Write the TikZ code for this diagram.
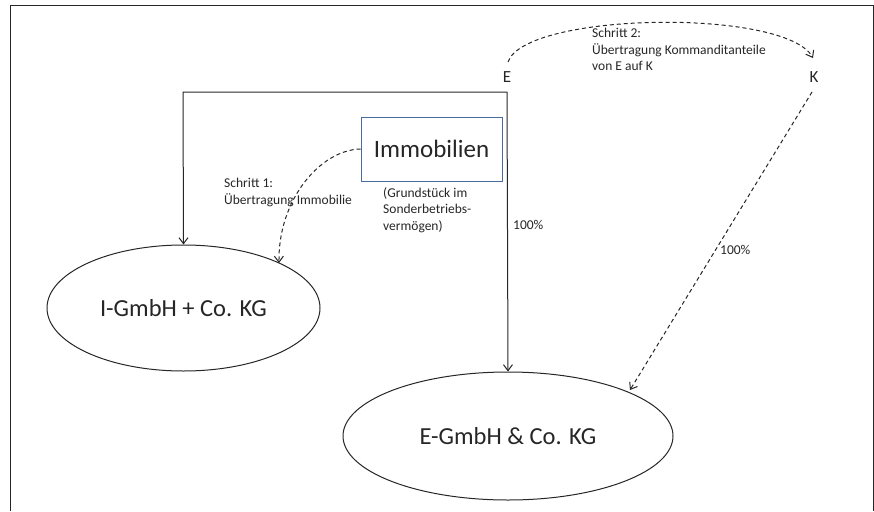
\documentclass[tikz,border=0pt]{standalone}
\usepackage{fontspec}
\setmainfont{Carlito}
\usetikzlibrary{arrows.meta,shapes.geometric}
\definecolor{txt}{HTML}{262626}
\definecolor{ln}{HTML}{262626}
\definecolor{boxblue}{HTML}{4A6A9C}
\tikzset{
  ent/.style={ellipse,draw=ln,line width=1pt,inner sep=0pt,text=txt},
  con/.style={draw=ln,line width=1pt,-{Straight Barb[length=6pt,width=9pt]}},
  dcon/.style={con,dash pattern=on 4pt off 3pt},
  small/.style={text=txt,font=\fontsize{13.5}{16.5}\selectfont,align=left,inner sep=0pt},
  letter/.style={text=txt,font=\fontsize{17}{20}\selectfont,inner sep=0pt}
}
\begin{document}
\begin{tikzpicture}[x=1pt,y=-1pt]
\useasboundingbox (0,0) rectangle (874,511);
\draw[ln,line width=1pt] (10,511) -- (10,6) -- (873,6) -- (873,511);
\node[ent,minimum width=273pt,minimum height=126pt,font=\fontsize{24.5}{28}\selectfont] (I) at (183.5,308) {I-GmbH + Co. KG};
\node[ent,minimum width=330pt,minimum height=128pt,font=\fontsize{24.5}{28}\selectfont] (EG) at (508,436) {E-GmbH \& Co. KG};
\node[draw=boxblue,line width=0.9pt,minimum width=141pt,minimum height=64pt,inner sep=0pt,text=txt,font=\fontsize{25}{28}\selectfont] (Imm) at (431.5,149) {Immobilien};
\node[small,anchor=north west] (cap) at (383,187) {(Grundstück im\\Sonderbetriebs-\\vermögen)};
\node[letter] (E) at (507,77) {E};
\node[letter] (K) at (814,77) {K};
\coordinate (Etop) at (508,62);
\coordinate (Ktop) at (813,58);
\coordinate (Ecorner) at (507,92);
\coordinate (Lcorner) at (183,92);
\node[small,anchor=north west] (s2) at (592,28) {Schritt 2:\\Übertragung Kommanditanteile\\von E auf K};
\node[small,anchor=north west] (s1) at (224,178) {Schritt 1:\\Übertragung Immobilie};
\node[small,anchor=west] (p1) at (513,224.5) {100\%};
\node[small,anchor=west] (p2) at (720,250) {100\%};
\draw[con] (Ecorner) -- (Lcorner) -- (I.north);
\draw[con] (Ecorner) -- (EG.north);
\draw[dcon] (Imm.west) .. controls (320,150) and (278,200) .. (279,263);
\draw[dcon] (Etop) .. controls (525,12) and (785,8) .. (Ktop);
\draw[dcon] (812,92) -- (630,390);
\end{tikzpicture}
\end{document}
